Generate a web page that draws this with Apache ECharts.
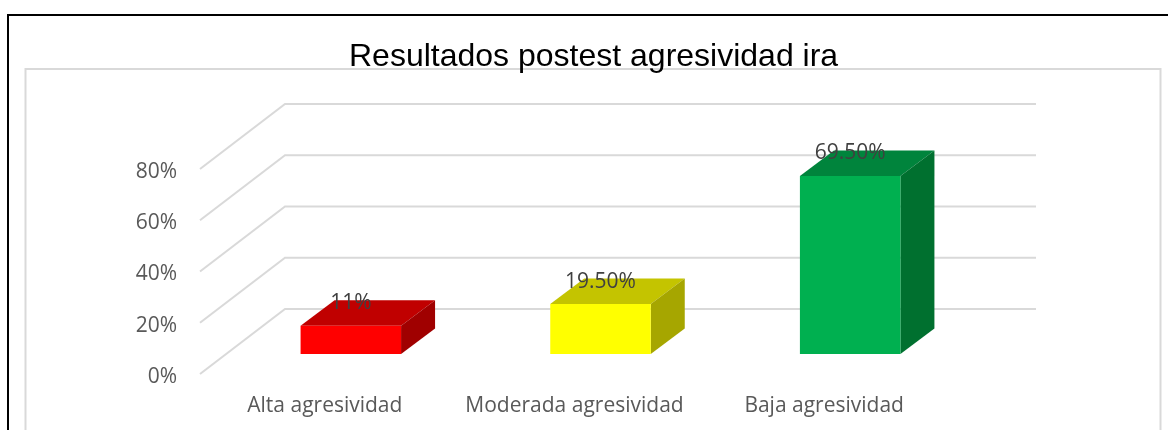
<!DOCTYPE html>
<html><head><meta charset="utf-8">
<style>html,body{margin:0;padding:0;background:#fff}#c{width:1168px;height:430px}</style>
<script src="https://cdn.jsdelivr.net/npm/echarts@6/dist/echarts.min.js"></script>
</head><body><div id="c"></div>
<script>
const titleText = 'Resultados postest agresividad ira';
const categories = ['Alta agresividad', 'Moderada agresividad', 'Baja agresividad'];
const values = [11, 19.5, 69.5];
const valueLabels = ['11%', '19.50%', '69.50%'];
const yTicks = [0, 20, 40, 60, 80];
const frontColors = ['#FF0000', '#FFFF00', '#00B050'];
const topColors = ['#C00000', '#C4C400', '#00843C'];
const sideColors = ['#A00000', '#A6A600', '#00702F'];

const wallDX = 85, wallDY = -65, wallExtra = 2;
const barDX = 34, barDY = -25.5, barW = 100.5, floorDX = 26, floorDY = -20;
const labelFont = '"Open Sans", sans-serif';

const chart = echarts.init(document.getElementById('c'), null, {renderer: 'canvas'});
chart.setOption({
  animation: false,
  backgroundColor: '#fff',
  title: {
    text: titleText, left: 344, top: 36,
    textStyle: {fontFamily: '"Liberation Sans"', fontSize: 32, fontWeight: 'normal', color: '#000'}
  },
  grid: {left: 200, top: 169, width: 749, height: 205},
  xAxis: {
    type: 'category', data: categories,
    axisLine: {show: false}, axisTick: {show: false},
    axisLabel: {interval: 0, hideOverlap: false, margin: 22, fontFamily: labelFont, fontSize: 21, color: '#595959'}
  },
  yAxis: {
    type: 'value', min: 0, max: 80, interval: 20,
    axisLine: {show: false}, axisTick: {show: false}, splitLine: {show: false},
    axisLabel: {
      margin: 23, formatter: v => `{a|${v}%}`,
      rich: {a: {padding: [6, 0, 0, 0], fontFamily: labelFont, fontSize: 21, color: '#595959'}}
    }
  },
  graphic: [
    {type: 'polyline', silent: true, z: 0, shape: {points: [[8, 440], [8, 15], [1180, 15]]},
      style: {stroke: '#000', lineWidth: 2, fill: null}},
    {type: 'polyline', silent: true, z: 0, shape: {points: [[25.5, 440], [25.5, 69], [1160.5, 69], [1160.5, 440]]},
      style: {stroke: '#D9D9D9', lineWidth: 2, fill: null}}
  ],
  series: [
    {
      type: 'custom', z: 1, clip: false, silent: true,
      data: yTicks.map(v => [0, v]),
      renderItem(params, api) {
        const cs = params.coordSys;
        const y = api.coord([0, api.value(1)])[1];
        return {
          type: 'polyline',
          shape: {points: [[cs.x, y], [cs.x + wallDX, y + wallDY], [cs.x + cs.width + wallDX + wallExtra, y + wallDY]]},
          style: {stroke: '#D9D9D9', lineWidth: 2, fill: null}
        };
      }
    },
    {
      type: 'custom', z: 2, clip: false, silent: true,
      data: values.map((v, i) => [i, v]),
      renderItem(params, api) {
        const i = params.dataIndex;
        const c = api.coord([i, 0]);
        const t = api.coord([i, api.value(1)]);
        const xL = c[0] + floorDX - barW / 2, xR = xL + barW;
        const yB = c[1] + floorDY, yT = t[1] + floorDY;
        return {
          type: 'group',
          children: [
            {type: 'polygon', shape: {points: [[xL, yT], [xR, yT], [xR + barDX, yT + barDY], [xL + barDX, yT + barDY]]},
              style: {fill: topColors[i]}},
            {type: 'polygon', shape: {points: [[xR, yT], [xR + barDX, yT + barDY], [xR + barDX, yB + barDY], [xR, yB]]},
              style: {fill: sideColors[i]}},
            {type: 'rect', shape: {x: xL, y: yT, width: barW, height: yB - yT},
              style: {fill: frontColors[i]}},
            {type: 'text', z2: 10, style: {
              x: xL + barW / 2, y: yT + barDY + 3, text: valueLabels[i], align: 'center', verticalAlign: 'middle',
              font: '21px ' + labelFont, fill: '#404040'}}
          ]
        };
      }
    }
  ]
});
</script></body></html>
